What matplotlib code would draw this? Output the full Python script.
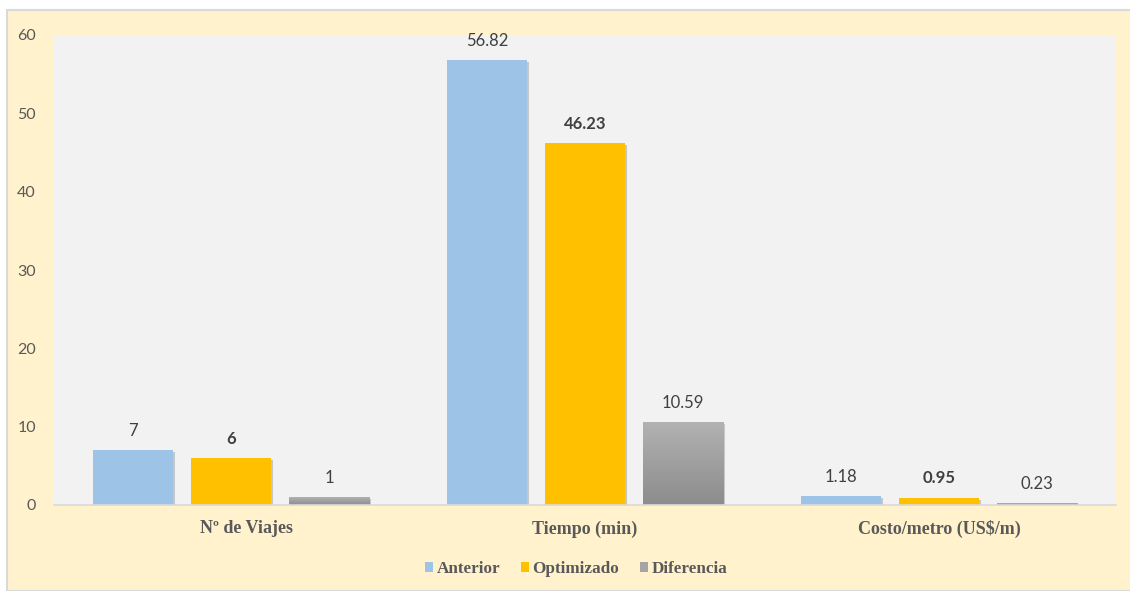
import numpy as np
import matplotlib.pyplot as plt
import matplotlib.transforms as mtransforms
from matplotlib.patches import Rectangle
from matplotlib.colors import LinearSegmentedColormap
import matplotlib.patheffects as pe

categories = ["Nº de Viajes", "Tiempo (min)", "Costo/metro (US$/m)"]
anterior = [7, 56.82, 1.18]
optimizado = [6, 46.23, 0.95]
diferencia = [1, 10.59, 0.23]
labels_ant = ["7", "56.82", "1.18"]
labels_opt = ["6", "46.23", "0.95"]
labels_dif = ["1", "10.59", "0.23"]

cream = "#FFF2CC"
txt = "#595959"
colors = ["#9DC3E6", "#FFC000", "#A5A5A5"]

fig = plt.figure(figsize=(11.3, 5.91), dpi=100)
fig.patch.set_facecolor("white")
# cream chart frame with thin gray edge, behind the axes
fig.patches.append(Rectangle((7 / 1130, 0), 1.0, 1 - 10 / 591, transform=fig.transFigure,
                             facecolor=cream, edgecolor="#D9D9D9", linewidth=1.5, zorder=-1))

ax = fig.add_axes([54 / 1130, 1 - 505 / 591, 1062 / 1130, 470 / 591])
ax.set_facecolor("#F2F2F2")

x = np.arange(len(categories))
w = 0.226
off = 0.277
shadow = [pe.SimplePatchShadow(offset=(1.5, -1.5), shadow_rgbFace="#000000", alpha=0.18), pe.Normal()]

b1 = ax.bar(x - off, anterior, w, color=colors[0], zorder=3, path_effects=shadow)
b2 = ax.bar(x, optimizado, w, color=colors[1], zorder=3, path_effects=shadow)
b3 = ax.bar(x + off, diferencia, w, color=colors[2], zorder=3, path_effects=shadow)

# vertical gradient on the gray bars
grad = np.linspace(0, 1, 256).reshape(-1, 1)
gcmap = LinearSegmentedColormap.from_list("g", ["#8C8C8C", "#B2B2B2"])
for r in b3:
    im = ax.imshow(grad, cmap=gcmap,
                   extent=[r.get_x(), r.get_x() + r.get_width(), 0, r.get_height()],
                   aspect="auto", origin="lower", zorder=3.5)
    im.set_clip_path(r)

for bars, labs, bold in [(b1, labels_ant, False), (b2, labels_opt, True), (b3, labels_dif, False)]:
    for r, s in zip(bars, labs):
        ax.annotate(s, (r.get_x() + r.get_width() / 2, r.get_height()), xytext=(0, 8),
                    textcoords="offset points", ha="center", va="bottom", fontsize=12,
                    fontfamily="Lato", fontweight="bold" if bold else "normal", color="#404040")

ax.set_xlim(-0.5, 2.5)
ax.set_ylim(0, 60)
ax.set_yticks(range(0, 61, 10))
ax.set_xticks(x)
ax.set_xticklabels(categories, fontfamily="Liberation Serif", fontweight="bold", fontsize=13, color=txt)
ax.tick_params(axis="y", length=0, labelsize=11.5, labelcolor=txt, pad=13)
ax.tick_params(axis="x", length=0, pad=11)
for lab in ax.get_yticklabels():
    lab.set_fontfamily("Lato")
# first category label sits a little right of its group
first = ax.get_xticklabels()[0]
first.set_transform(first.get_transform() + mtransforms.ScaledTranslation(0.16, 0, fig.dpi_scale_trans))
for s in ["top", "right", "left"]:
    ax.spines[s].set_visible(False)
ax.spines["bottom"].set_color("#D9D9D9")
ax.spines["bottom"].set_linewidth(1.2)
ax.spines["bottom"].set_zorder(4)

handles = [Rectangle((0, 0), 1, 1, facecolor=c) for c in colors]
leg = fig.legend(handles, ["Anterior", "Optimizado", "Diferencia"], loc="center",
                 bbox_to_anchor=(576 / 1130, 1 - 569 / 591), ncol=3, frameon=False,
                 handlelength=0.5, handleheight=0.5, handletextpad=0.2, columnspacing=1.2,
                 prop={"family": "Liberation Serif", "weight": "bold", "size": 12.3})
for t in leg.get_texts():
    t.set_color(txt)

fig.savefig("out.png", dpi=100, facecolor=fig.get_facecolor())
